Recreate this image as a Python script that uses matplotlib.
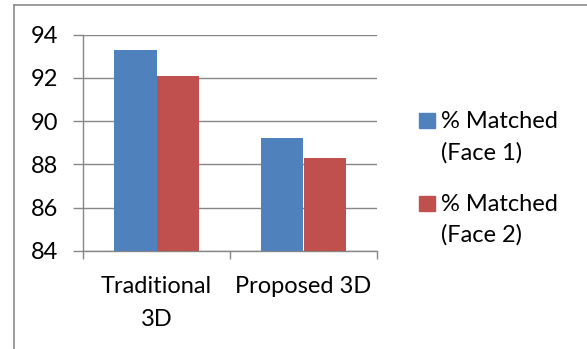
import matplotlib
matplotlib.use("Agg")
import matplotlib.pyplot as plt
from matplotlib.patches import Rectangle
from matplotlib.lines import Line2D

categories = ["Traditional\n3D", "Proposed 3D"]
series_names = ["% Matched\n(Face 1)", "% Matched\n(Face 2)"]
face1 = [93.3, 89.2]
face2 = [92.1, 88.3]
yticks = [84, 86, 88, 90, 92, 94]

colors = ["#4F81BD", "#C0504D"]
grid_c = "#868686"
FONT = ["Lato", "DejaVu Sans"]
plt.rcParams['font.family'] = FONT
FS = 17

W, H = 587, 349
fig = plt.figure(figsize=(W / 100, H / 100), dpi=100)

def fx(x):
    return x / W

def fy(y):
    return 1 - y / H

# outer chart frame (cut off at right/bottom)
fig.add_artist(Line2D([fx(14), fx(14)], [fy(5), fy(349)], color="#8c8c8c", lw=1.2, transform=fig.transFigure))
fig.add_artist(Line2D([fx(14), fx(587)], [fy(5), fy(5)], color="#8c8c8c", lw=1.2, transform=fig.transFigure))

ax_l, ax_r, ax_t, ax_b = 83, 377, 34.8, 250.7
ax = fig.add_axes([fx(ax_l), fy(ax_b), fx(ax_r - ax_l), (ax_b - ax_t) / H])

x = list(range(len(categories)))
bw = 0.286
ax.bar([i - bw / 2 for i in x], face1, width=bw, color=colors[0], zorder=3, edgecolor="none")
ax.bar([i + bw / 2 for i in x], face2, width=bw, color=colors[1], zorder=3, edgecolor="none")

ax.set_ylim(84, 94)
ax.set_xlim(-0.5, len(categories) - 0.5)
ax.set_yticks(yticks)
ax.set_yticklabels([str(v) for v in yticks], fontsize=FS)
ax.yaxis.grid(True, color=grid_c, lw=1.0, zorder=0)
ax.set_axisbelow(True)

ax.set_xticks(x)
ax.set_xticklabels(categories, fontsize=FS, linespacing=1.7, ha="center", va="top")
ax.set_xticks([-0.5, 0.5, 1.5], minor=True)
ax.tick_params(axis="x", which="major", length=0, pad=18)
ax.tick_params(axis="x", which="minor", length=5.5, color=grid_c, width=1.0)
ax.tick_params(axis="y", length=7, color=grid_c, width=1.0, pad=11)

for s in ["top", "right"]:
    ax.spines[s].set_visible(False)
for s in ["left", "bottom"]:
    ax.spines[s].set_color(grid_c)
    ax.spines[s].set_linewidth(1.0)

# legend drawn manually
leg_items = [(113.3, 128.3), (195.7, 210.5)]
for (y0, y1), name, c in zip(leg_items, series_names, colors):
    fig.add_artist(Rectangle((fx(419.5), fy(y1)), fx(15.5), (y1 - y0) / H, color=c, transform=fig.transFigure))
    fig.text(fx(441), fy(y0 - 2), name, fontsize=FS, va="top", ha="left", linespacing=1.55)

fig.savefig("out.png", dpi=100)
